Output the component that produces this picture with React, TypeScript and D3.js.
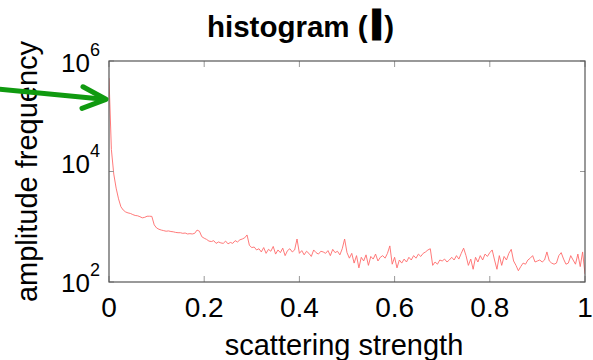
import React from "react";
import * as d3 from "d3";

// ---- data ----
const binStep = 0.005; // width of one histogram bin on the scattering-strength axis
const binFrequencies: number[] = [
  490000, 25000, 9000, 5000, 3200, 2300, 2000, 1850, 1780, 1740,
  1660, 1600, 1580, 1520, 1450, 1480, 1550, 1550, 1540, 1080,
  950, 900, 870, 850, 830, 840, 820, 810, 790, 780,
  780, 760, 770, 740, 750, 740, 760, 870, 830, 660,
  620, 590, 550, 540, 560, 500, 530, 510, 500, 550,
  490, 520, 500, 560, 530, 580, 600, 630, 710, 460,
  420, 430, 380, 400, 350, 420, 330, 390, 360, 440,
  320, 380, 340, 410, 300, 370, 400, 350, 380, 600,
  330, 370, 310, 360, 330, 290, 380, 340, 320, 360,
  350, 330, 370, 300, 390, 340, 360, 310, 400, 600,
  340, 270, 330, 220, 300, 180, 280, 240, 310, 200,
  290, 260, 320, 240, 280, 300, 270, 330, 450, 210,
  280, 180, 250, 220, 260, 230, 280, 250, 300, 270,
  320, 290, 330, 350, 380, 400, 200, 230, 210, 250,
  240, 260, 230, 250, 280, 250, 300, 260, 330, 410,
  300, 200, 260, 170, 280, 230, 300, 250, 320, 290,
  340, 380, 250, 170, 300, 200, 290, 250, 330, 390,
  240, 200, 160, 190, 220, 210, 250, 270, 300, 230,
  240, 250, 230, 250, 350, 240, 220, 210, 220, 300,
  340, 260, 210, 220, 300, 250, 210, 320, 190, 350,
  140,
];
const xTicks = [0, 0.2, 0.4, 0.6, 0.8, 1];
const xTickLabels = ["0", "0.2", "0.4", "0.6", "0.8", "1"];
const yTicks = [1e2, 1e4, 1e6];
const yTickExponents = ["2", "4", "6"];

const titleText = "histogram (";
const titleSymbol = "I";
const titleClose = ")";
const xLabel = "scattering strength";
const yLabel = "amplitude frequency";

// ---- layout / style ----
const W = 593;
const H = 360;
const X0 = 109, X1 = 585, Y0 = 61, Y1 = 282;
const FONT = "'Liberation Sans', Arial, Helvetica, sans-serif";
const yTickLabelDy = [10, 1.5, 11];

export default function App() {
  const x = d3.scaleLinear().domain([0, 1]).range([X0, X1]);
  const y = d3.scaleLog().domain([1e2, 1e6]).range([Y1, Y0]);
  const pts = binFrequencies.map((f, i) => ({ s: i * binStep, f }));
  const line = d3
    .line<{ s: number; f: number }>()
    .x((d) => x(d.s))
    .y((d) => y(d.f));

  return (
    <svg
      width={W}
      height={H}
      style={{ position: "absolute", left: 0, top: 0, background: "#fff" }}
      fontFamily={FONT}
    >
      <rect x={0} y={0} width={W} height={H} fill="#fff" />
      <defs>
        <clipPath id="plotclip">
          <rect x={X0} y={Y0} width={X1 - X0} height={Y1 - Y0} />
        </clipPath>
      </defs>

      {/* data line */}
      <path
        d={line(pts) || ""}
        fill="none"
        stroke="#ff6b6b"
        strokeWidth={0.9}
        clipPath="url(#plotclip)"
      />

      {/* ticks */}
      {xTicks.map((t, i) => (
        <g key={"xt" + i}>
          <line x1={x(t)} x2={x(t)} y1={Y1} y2={Y1 - 6} stroke="#999" strokeWidth={1} />
          <line x1={x(t)} x2={x(t)} y1={Y0} y2={Y0 + 6} stroke="#999" strokeWidth={1} />
          <text x={x(t)} y={317} fontSize={28} textAnchor="middle" fill="#000">
            {xTickLabels[i]}
          </text>
        </g>
      ))}
      {yTicks.map((t, i) => (
        <g key={"yt" + i}>
          <line x1={X0} x2={X0 + 5} y1={y(t)} y2={y(t)} stroke="#999" strokeWidth={1} />
          <line x1={X1} x2={X1 - 5} y1={y(t)} y2={y(t)} stroke="#999" strokeWidth={1} />
          <text
            x={100}
            y={y(t) + yTickLabelDy[i]}
            fontSize={26}
            textAnchor="end"
            fill="#000"
          >
            <tspan>10</tspan>
            <tspan fontSize={18} dy={-16}>
              {yTickExponents[i]}
            </tspan>
          </text>
        </g>
      ))}

      {/* box */}
      <rect
        x={X0}
        y={Y0}
        width={X1 - X0}
        height={Y1 - Y0}
        fill="none"
        stroke="#555"
        strokeWidth={1.2}
      />

      {/* axis labels */}
      <text x={(X0 + X1) / 2 - 3} y={355} fontSize={29} textAnchor="middle" fill="#000">
        {xLabel}
      </text>
      <text
        transform={`translate(37, ${(Y0 + Y1) / 2}) rotate(-90)`}
        fontSize={29}
        textAnchor="middle"
        fill="#000"
      >
        {yLabel}
      </text>

      {/* title */}
      <text x={207} y={37} fontSize={29.5} fontWeight="bold" fill="#000">
        {titleText}
        <tspan fontSize={42} fontWeight={900} stroke="#000" strokeWidth={3} dx={3} dy={2}>
          {titleSymbol}
        </tspan>
        <tspan dx={2} dy={-2}>{titleClose}</tspan>
      </text>

      {/* green annotation arrow */}
      <g stroke="#109a10" strokeWidth={5} strokeLinecap="round" strokeLinejoin="round" fill="none">
        <line x1={-5} y1={88.7} x2={104} y2={99.3} />
        <polyline points="83,86.8 106,99.3 82,108.3" />
      </g>
    </svg>
  );
}
